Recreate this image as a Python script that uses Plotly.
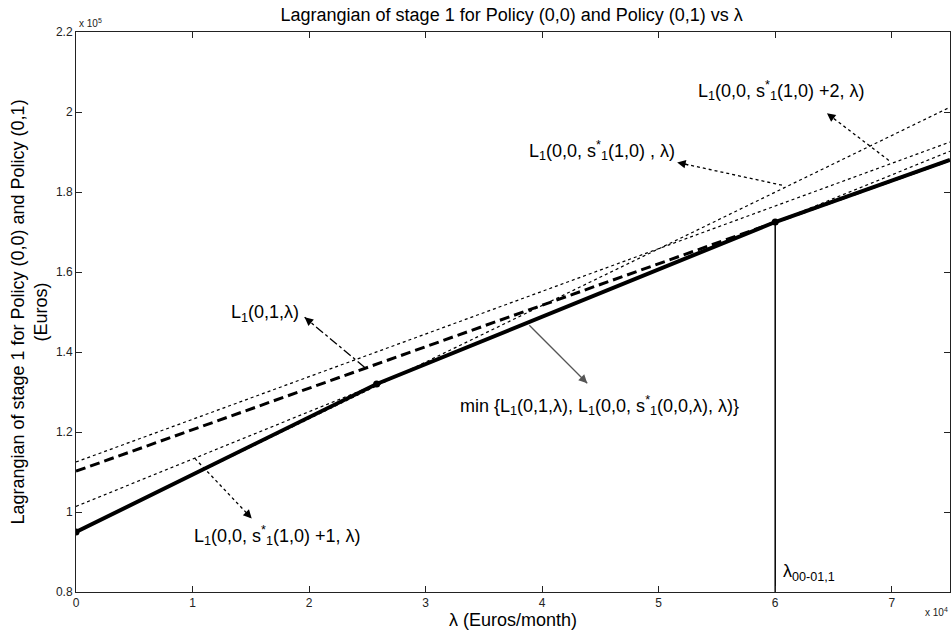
import plotly.graph_objects as go

# ---- data (Euros/month on x, Euros on y) ----
lam = [0, 75000]
L01 = [110200, 188000]          # L1(0,1,λ)  dashed
L00_s = [112500, 192500]        # L1(0,0,s*(1,0),λ)  dotted
L00_s1 = [101400, 190200]       # L1(0,0,s*(1,0)+1,λ) dotted
L00_s2 = [95000, 201200]        # L1(0,0,s*(1,0)+2,λ) dotted
min_lam = [0, 25800, 60000, 75000]
min_val = [95000, 132000, 172500, 188000]
kink_lam = [0, 25800, 60000]
kink_val = [95000, 132000, 172500]
cross_lam = [60000, 60000]
cross_val = [80000, 172500]

xticks = [0, 10000, 20000, 30000, 40000, 50000, 60000, 70000]
xticklabels = ["0", "1", "2", "3", "4", "5", "6", "7"]
yticks = [80000, 100000, 120000, 140000, 160000, 180000, 200000, 220000]
yticklabels = ["0.8", "1", "1.2", "1.4", "1.6", "1.8", "2", "2.2"]

FONT = "Liberation Sans, Arial, sans-serif"

fig = go.Figure()
for yv in (L00_s, L00_s1, L00_s2):
    fig.add_trace(go.Scatter(x=lam, y=yv, mode="lines",
                             line=dict(color="black", width=1.2, dash="dot"),
                             showlegend=False, hoverinfo="skip"))
fig.add_trace(go.Scatter(x=lam, y=L01, mode="lines",
                         line=dict(color="black", width=3, dash="10px,5px"),
                         showlegend=False))
fig.add_trace(go.Scatter(x=cross_lam, y=cross_val, mode="lines",
                         line=dict(color="black", width=1.5), showlegend=False))
fig.add_trace(go.Scatter(x=min_lam, y=min_val, mode="lines",
                         line=dict(color="black", width=4), showlegend=False))
fig.add_trace(go.Scatter(x=kink_lam, y=kink_val, mode="markers",
                         marker=dict(color="black", size=7), showlegend=False))

# arrows: (tail_x, tail_y, head_x, head_y, dash, color)
arrows = [
    (69750, 187900, 64440, 199670, "dot", "black"),
    (60580, 181700, 51590, 187400, "dot", "black"),
    (24760, 136200, 19620, 148670, "dashdot", "black"),
    (38900, 146700, 43870, 132200, "solid", "#555555"),
    (10200, 113400, 15080, 98400, "dot", "black"),
]
for tx, ty, hx, hy, dash, col in arrows:
    fig.add_shape(type="line", x0=tx, y0=ty, x1=hx, y1=hy, xref="x", yref="y",
                  line=dict(color=col, width=1.3, dash=dash))
    fig.add_annotation(x=hx, y=hy, ax=hx - (hx - tx) * 0.12, ay=hy - (hy - ty) * 0.12,
                       axref="x", ayref="y", xref="x", yref="y", text="",
                       showarrow=True, arrowhead=2, arrowsize=1.3, arrowwidth=1.3,
                       arrowcolor=col)

s1 = "s<sup>*</sup><sub>1</sub>"
labels = [
    (60580, 205400, "L<sub>1</sub>(0,0, " + s1 + "(1,0) +2, λ)", "center"),
    (45160, 190400, "L<sub>1</sub>(0,0, " + s1 + "(1,0) , λ)", "center"),
    (16200, 149700, "L<sub>1</sub>(0,1,λ)", "center"),
    (44900, 126700, "min {L<sub>1</sub>(0,1,λ), L<sub>1</sub>(0,0, " + s1 + "(0,0,λ), λ)}", "center"),
    (17310, 94200, "L<sub>1</sub>(0,0, " + s1 + "(1,0) +1, λ)", "center"),
    (60500, 84900, "λ<sub>00-01,1</sub>", "left"),
]
for x, y, t, anc in labels:
    fig.add_annotation(x=x, y=y, xref="x", yref="y", text=t, showarrow=False,
                       xanchor=anc, yanchor="middle",
                       font=dict(family=FONT, size=18, color="black"))

# exponent labels
fig.add_annotation(x=0, y=1, xref="paper", yref="paper", text="x 10<sup>5</sup>",
                   showarrow=False, xanchor="left", yanchor="bottom", xshift=1, yshift=1,
                   font=dict(family=FONT, size=10, color="#222"))
fig.add_annotation(x=1, y=0, xref="paper", yref="paper", text="x 10<sup>4</sup>",
                   showarrow=False, xanchor="right", yanchor="top", yshift=-12,
                   font=dict(family=FONT, size=10, color="#222"))

fig.update_layout(
    width=951, height=633,
    margin=dict(l=76, r=1, t=32, b=41),
    paper_bgcolor="white", plot_bgcolor="white",
    font=dict(family=FONT, size=12, color="#222"),
    title=dict(text="Lagrangian of stage 1 for Policy (0,0) and Policy (0,1) vs λ",
               x=0.538, xanchor="center", y=0.976, yanchor="middle",
               font=dict(family=FONT, size=18, color="black")),
    xaxis=dict(range=[0, 75000], tickvals=xticks, ticktext=xticklabels,
               showline=True, mirror="ticks", linecolor="#222", linewidth=1,
               ticks="inside", ticklen=6, tickcolor="#222", showgrid=False, zeroline=False,
               automargin=False,
               title=dict(text="λ (Euros/month)", standoff=2,
                          font=dict(family=FONT, size=18, color="black"))),
    yaxis=dict(range=[80000, 220000], tickvals=yticks, ticktext=yticklabels,
               showline=True, mirror="ticks", linecolor="#222", linewidth=1,
               ticks="inside", ticklen=6, tickcolor="#222", showgrid=False, zeroline=False,
               automargin=False,
               title=dict(text="Lagrangian of stage 1 for Policy (0,0) and Policy (0,1)<br>(Euros)",
                          standoff=3,
                          font=dict(family=FONT, size=18, color="black"))),
)

fig.write_html("out.html", config={"displayModeBar": False},
               post_script="document.body.style.margin='0px';document.body.style.overflow='hidden';")
